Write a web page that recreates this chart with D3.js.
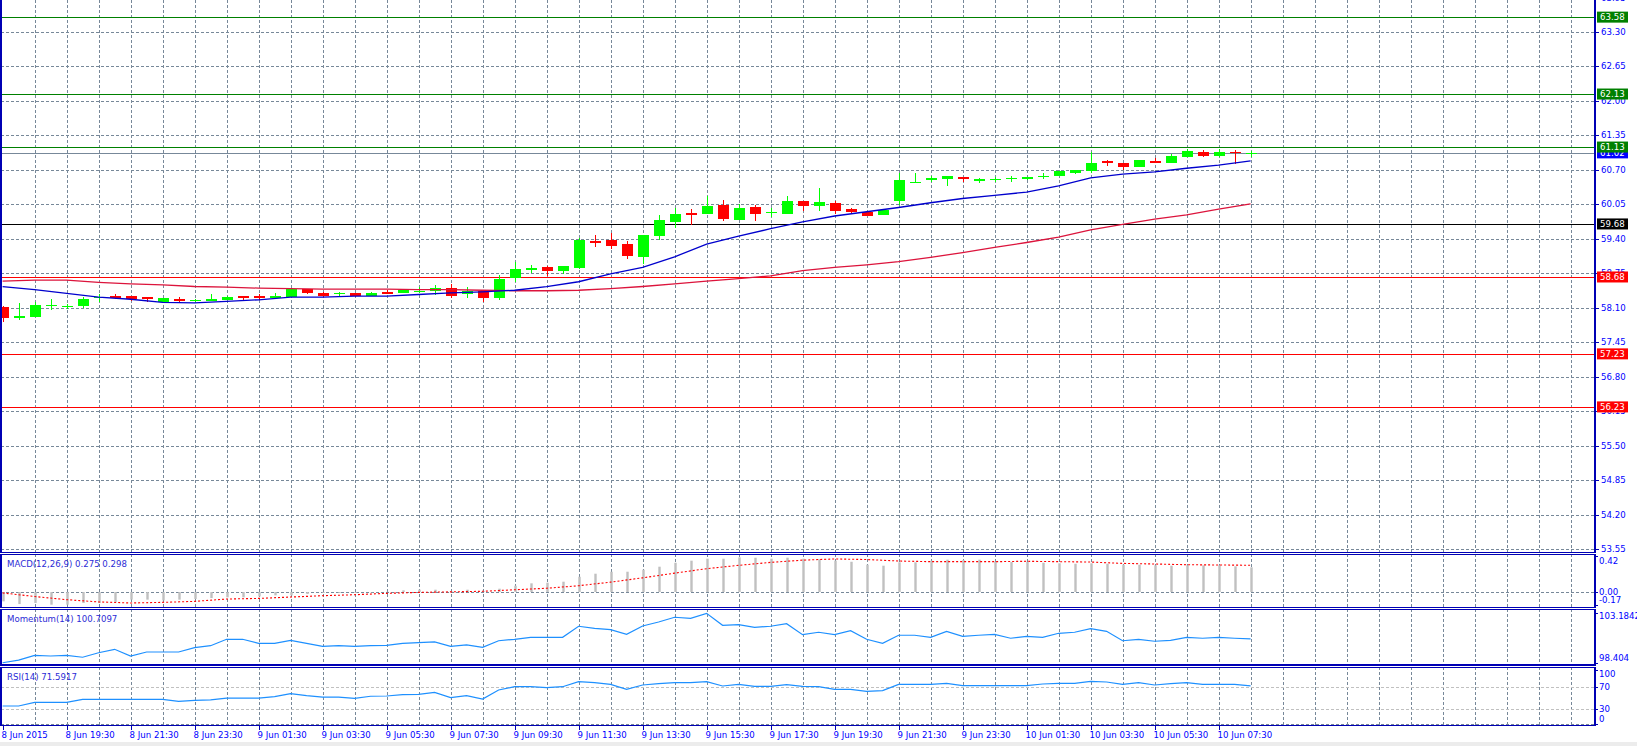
<!DOCTYPE html>
<html>
<head>
<meta charset="utf-8">
<script src="https://cdn.jsdelivr.net/npm/d3@7/dist/d3.min.js"></script>
<style>
html, body { margin: 0; padding: 0; background: #fff; overflow: hidden; }
svg { display: block; }
text { font-family: "DejaVu Sans", sans-serif; font-size: 8.6px; }
</style>
</head>
<body>
<svg id="chart" width="1637" height="746"></svg>
<script>
// --- 30 min bars, 8 Jun 2015 17:30 -> 10 Jun 2015 08:30 ---
const openP = [58.12, 57.91, 57.93, 58.13, 58.12, 58.14, 58.28, 58.32, 58.32, 58.30,
  58.21, 58.27, 58.22, 58.23, 58.25, 58.32, 58.32, 58.29, 58.30, 58.45,
  58.38, 58.35, 58.38, 58.33, 58.40, 58.38, 58.41, 58.41, 58.47, 58.35,
  58.41, 58.28, 58.67, 58.83, 58.86, 58.80, 58.84, 59.36, 59.37, 59.30,
  59.06, 59.45, 59.72, 59.89, 59.87, 60.04, 59.76, 60.00, 59.89, 59.87,
  60.11, 60.01, 60.08, 59.96, 59.91, 59.84, 60.12, 60.47, 60.50, 60.52,
  60.57, 60.50, 60.52, 60.53, 60.52, 60.57, 60.59, 60.65, 60.67, 60.86,
  60.82, 60.75, 60.87, 60.82, 60.95, 61.04, 60.97, 61.04, 61.00];
const highP = [58.13, 58.18, 58.21, 58.26, 58.17, 58.31, 58.36, 58.36, 58.33, 58.31,
  58.29, 58.30, 58.27, 58.36, 58.32, 58.33, 58.35, 58.38, 58.46, 58.45,
  58.39, 58.39, 58.38, 58.40, 58.44, 58.43, 58.49, 58.52, 58.55, 58.49,
  58.41, 58.71, 58.96, 58.91, 58.89, 58.88, 59.41, 59.47, 59.51, 59.35,
  59.47, 59.85, 59.98, 59.96, 60.20, 60.13, 60.06, 60.04, 59.98, 60.21,
  60.12, 60.35, 60.11, 59.98, 59.93, 59.94, 60.64, 60.65, 60.59, 60.59,
  60.57, 60.55, 60.57, 60.59, 60.57, 60.64, 60.68, 60.70, 61.03, 60.89,
  60.82, 60.89, 60.92, 60.99, 61.10, 61.08, 61.09, 61.08, 61.05];
const lowP = [57.84, 57.86, 57.92, 58.05, 58.08, 58.10, 58.21, 58.26, 58.22, 58.20,
  58.18, 58.21, 58.20, 58.22, 58.25, 58.25, 58.25, 58.28, 58.30, 58.36,
  58.31, 58.33, 58.31, 58.32, 58.36, 58.38, 58.37, 58.34, 58.29, 58.28,
  58.20, 58.25, 58.58, 58.75, 58.70, 58.73, 58.83, 59.25, 59.21, 59.01,
  58.92, 59.38, 59.60, 59.66, 59.86, 59.74, 59.76, 59.74, 59.81, 59.87,
  59.93, 59.93, 59.86, 59.89, 59.83, 59.84, 60.03, 60.45, 60.47, 60.40,
  60.48, 60.45, 60.48, 60.48, 60.51, 60.52, 60.58, 60.63, 60.64, 60.78,
  60.70, 60.75, 60.82, 60.82, 60.95, 60.95, 60.95, 60.81, 60.95];
const closeP = [57.91, 57.94, 58.15, 58.15, 58.13, 58.27, 58.30, 58.28, 58.27, 58.27,
  58.28, 58.22, 58.25, 58.27, 58.31, 58.28, 58.28, 58.33, 58.45, 58.37,
  58.33, 58.38, 58.33, 58.38, 58.36, 58.43, 58.42, 58.47, 58.33, 58.42,
  58.28, 58.64, 58.83, 58.84, 58.80, 58.88, 59.38, 59.33, 59.27, 59.08,
  59.47, 59.76, 59.87, 59.85, 60.02, 59.77, 59.98, 59.87, 59.90, 60.11,
  60.01, 60.09, 59.93, 59.91, 59.83, 59.94, 60.51, 60.48, 60.55, 60.59,
  60.52, 60.52, 60.53, 60.55, 60.57, 60.59, 60.67, 60.69, 60.83, 60.82,
  60.76, 60.89, 60.82, 60.96, 61.05, 60.97, 61.04, 61.01, 61.02];

// moving averages, read every second bar
const maBars = [0, 2, 4, 6, 8, 10, 12, 14, 16, 18, 20, 22, 24, 26, 28, 30, 32, 34, 36, 38,
  40, 42, 44, 46, 48, 50, 52, 54, 56, 58, 60, 62, 64, 66, 68, 70, 72, 74, 76, 78];
const maFast = [58.50, 58.44, 58.37, 58.30, 58.26, 58.20, 58.19, 58.22, 58.25, 58.30,
  58.30, 58.32, 58.32, 58.35, 58.38, 58.40, 58.43, 58.50, 58.59, 58.74,
  58.86, 59.06, 59.30, 59.45, 59.59, 59.72, 59.83, 59.91, 59.99, 60.08,
  60.16, 60.22, 60.28, 60.40, 60.55, 60.62, 60.66, 60.73, 60.79, 60.87];
const maSlow = [58.60, 58.62, 58.62, 58.58, 58.55, 58.53, 58.50, 58.49, 58.47, 58.46,
  58.45, 58.45, 58.45, 58.44, 58.44, 58.43, 58.42, 58.42, 58.43, 58.46,
  58.50, 58.55, 58.60, 58.65, 58.70, 58.80, 58.86, 58.91, 58.97, 59.05,
  59.14, 59.24, 59.33, 59.43, 59.57, 59.67, 59.77, 59.85, 59.96, 60.06];

// MACD(12,26,9)
const macdMain = [-0.104, -0.134, -0.122, -0.141, -0.141, -0.122, -0.122, -0.111, -0.085, -0.085,
  -0.093, -0.085, -0.078, -0.067, -0.059, -0.059, -0.048, -0.037, -0.037, -0.022,
  -0.011, -0.011, -0.011, -0.004, 0.003, 0.019, 0.026, 0.026, 0.008, 0.026,
  0.011, 0.037, 0.070, 0.097, 0.104, 0.115, 0.170, 0.204, 0.226, 0.226,
  0.248, 0.282, 0.326, 0.349, 0.371, 0.371, 0.386, 0.382, 0.371, 0.382,
  0.371, 0.364, 0.349, 0.337, 0.304, 0.293, 0.331, 0.331, 0.349, 0.360,
  0.356, 0.360, 0.337, 0.334, 0.334, 0.326, 0.320, 0.315, 0.320, 0.315,
  0.304, 0.304, 0.297, 0.293, 0.297, 0.297, 0.297, 0.286, 0.275];
const macdSignal = [-0.010, -0.050, -0.085, -0.110, -0.122, -0.115, -0.104, -0.078, -0.071, -0.056,
  -0.041, -0.030, -0.015, -0.004, 0.002, 0.008, 0.025, 0.042, 0.070, 0.110,
  0.158, 0.210, 0.260, 0.297, 0.330, 0.355, 0.368, 0.362, 0.345, 0.338,
  0.338, 0.338, 0.342, 0.338, 0.334, 0.319, 0.312, 0.304, 0.301, 0.298];

// Momentum(14)
const momentum = [98.40, 98.66, 99.12, 99.05, 99.12, 98.93, 99.37, 99.70, 99.05, 99.44,
  99.44, 99.44, 99.86, 100.05, 100.67, 100.67, 100.28, 100.28, 100.57, 100.28,
  99.99, 100.05, 99.99, 100.05, 100.08, 100.28, 100.34, 100.41, 99.99, 100.12,
  99.89, 100.53, 100.67, 100.86, 100.86, 100.86, 101.93, 101.73, 101.60, 101.15,
  101.96, 102.34, 102.80, 102.70, 103.18, 102.02, 102.08, 101.83, 101.93, 102.18,
  101.12, 101.35, 101.12, 101.50, 100.67, 100.28, 101.06, 101.06, 100.86, 101.44,
  100.96, 101.06, 101.15, 100.77, 100.96, 100.86, 101.25, 101.35, 101.70, 101.44,
  100.53, 100.67, 100.48, 100.57, 100.86, 100.77, 100.86, 100.77, 100.71];

// RSI(14)
const rsi = [34.9, 34.9, 41.6, 41.6, 41.6, 47.0, 47.0, 47.0, 47.0, 47.0,
  47.0, 43.5, 45.3, 45.9, 49.4, 49.4, 49.4, 51.8, 57.3, 53.6,
  51.2, 51.2, 48.8, 52.6, 53.1, 55.5, 56.1, 59.8, 50.1, 53.7,
  47.6, 64.0, 70.0, 70.0, 68.2, 70.0, 79.1, 77.3, 74.3, 65.2,
  73.1, 75.5, 77.3, 77.3, 79.1, 71.3, 74.3, 70.6, 70.6, 73.7,
  70.6, 70.0, 65.2, 65.2, 61.6, 62.8, 74.3, 74.3, 74.3, 76.1,
  71.9, 71.9, 71.9, 71.9, 71.9, 74.9, 76.1, 76.1, 79.8, 78.5,
  74.3, 77.3, 73.1, 75.5, 77.3, 74.3, 74.3, 74.3, 71.6];

// horizontal levels
const levelValues = [63.58, 62.13, 61.13, 59.68, 58.68, 57.23, 56.23];
const levelKind = ["R", "R", "R", "P", "S", "S", "S"];
const lastPrice = 61.02;

// axis ticks
const priceTicks = [53.55, 54.20, 54.85, 55.50, 56.15, 56.80, 57.45, 58.10, 58.75,
  59.40, 60.05, 60.70, 61.35, 62.00, 62.65, 63.30, 63.95];
const macdTicks = [0.42, 0.00, -0.17];
const momTicks = [103.1842, 98.404];
const rsiTicks = [100, 70, 30, 0];
const timeBars = [0, 4, 8, 12, 16, 20, 24, 28, 32, 36, 40, 44, 48, 52, 56, 60, 64, 68, 72, 76];
const timeLabels = ["8 Jun 2015", "8 Jun 19:30", "8 Jun 21:30", "8 Jun 23:30", "9 Jun 01:30",
  "9 Jun 03:30", "9 Jun 05:30", "9 Jun 07:30", "9 Jun 09:30", "9 Jun 11:30", "9 Jun 13:30",
  "9 Jun 15:30", "9 Jun 17:30", "9 Jun 19:30", "9 Jun 21:30", "9 Jun 23:30", "10 Jun 01:30",
  "10 Jun 03:30", "10 Jun 05:30", "10 Jun 07:30"];

// ---------------------------------------------------------------
const svg = d3.select("#chart");
const axisX = 1595;
const navy = "#0000b4";
const gridCol = "#778899";
const labCol = "#0000ff";

const panels = {
  price: { top: -1, bottom: 552.7 },
  macd: { top: 554.3, bottom: 607.3 },
  mom: { top: 609.3, bottom: 665 },
  rsi: { top: 667.3, bottom: 725.7 }
};

const x = d3.scaleLinear().domain([0, 99.5]).range([2.6, 1594.6]);
const yP = d3.scaleLinear().domain([53.475, 63.903]).range([553, 0]);
const yM = d3.scaleLinear().domain([-0.17, 0.42]).range([607.3, 554.3]);
const yMo = d3.scaleLinear().domain([98.404, 103.1842]).range([662.7, 613.3]);
const yR = d3.scaleLinear().domain([0, 100]).range([725.2, 670.2]);

const bx = i => Math.round(x(i)) + 0.5;

svg.append("rect").attr("width", 1637).attr("height", 746).attr("fill", "#fff");
svg.append("rect").attr("y", 742).attr("width", 1637).attr("height", 4).attr("fill", "#ececec");

// vertical grid
const vg = svg.append("g").attr("shape-rendering", "crispEdges");
Object.values(panels).forEach(p => {
  vg.selectAll(null).data(d3.range(2, 100, 2)).enter().append("line")
    .attr("x1", d => bx(d)).attr("x2", d => bx(d))
    .attr("y1", Math.max(p.top, 0)).attr("y2", p.bottom)
    .attr("stroke", gridCol).attr("stroke-dasharray", "3,2");
});

// horizontal grid, price
vg.selectAll(null).data(priceTicks).enter().append("line")
  .attr("x1", 1).attr("x2", axisX)
  .attr("y1", d => Math.round(yP(d)) + 0.5).attr("y2", d => Math.round(yP(d)) + 0.5)
  .attr("stroke", gridCol).attr("stroke-dasharray", "3,2");
// macd zero, rsi levels
vg.append("line").attr("x1", 1).attr("x2", axisX)
  .attr("y1", Math.round(yM(0)) + 0.5).attr("y2", Math.round(yM(0)) + 0.5)
  .attr("stroke", gridCol).attr("stroke-dasharray", "3,2");
vg.selectAll(null).data([70, 30]).enter().append("line")
  .attr("x1", 1).attr("x2", axisX)
  .attr("y1", d => Math.round(yR(d)) + 0.5).attr("y2", d => Math.round(yR(d)) + 0.5)
  .attr("stroke", "#c0c0c0").attr("stroke-dasharray", "3,2");
vg.append("line").attr("x1", 1).attr("x2", axisX)
  .attr("y1", Math.round(yR(0)) - 0.5).attr("y2", Math.round(yR(0)) - 0.5)
  .attr("stroke", gridCol).attr("stroke-dasharray", "3,2");

// level lines
const levelColor = k => k === "R" ? "#008000" : (k === "P" ? "#000000" : "#ff0000");
const lv = svg.append("g").attr("shape-rendering", "crispEdges");
lv.append("line").attr("x1", 1).attr("x2", axisX)
  .attr("y1", Math.round(yP(lastPrice)) + 0.5).attr("y2", Math.round(yP(lastPrice)) + 0.5)
  .attr("stroke", "#778899");
lv.selectAll(null).data(levelValues).enter().append("line")
  .attr("x1", 1).attr("x2", axisX)
  .attr("y1", d => Math.round(yP(d)) + 0.5).attr("y2", d => Math.round(yP(d)) + 0.5)
  .attr("stroke", (d, i) => levelColor(levelKind[i])).attr("stroke-width", 1.3);

// candles
const bars = d3.range(openP.length).map(i => ({ i, o: openP[i], h: highP[i], l: lowP[i], c: closeP[i] }));
const cg = svg.append("g").attr("shape-rendering", "crispEdges");
const candle = cg.selectAll("g").data(bars).enter().append("g");
candle.append("line")
  .attr("x1", d => bx(d.i)).attr("x2", d => bx(d.i))
  .attr("y1", d => yP(d.h)).attr("y2", d => yP(d.l))
  .attr("stroke", d => d.c >= d.o ? "#00ff00" : "#ff0000");
candle.append("rect")
  .attr("x", d => bx(d.i) - 5.5)
  .attr("width", 11)
  .attr("y", d => yP(Math.max(d.o, d.c)))
  .attr("height", d => Math.max(1.2, Math.abs(yP(d.o) - yP(d.c))))
  .attr("fill", d => d.c >= d.o ? "#00ff00" : "#ff0000");

// moving averages
const maLine = d3.line().x(d => x(d[0])).y(d => yP(d[1]));
svg.append("path").datum(maBars.map((b, k) => [b, maSlow[k]]))
  .attr("d", maLine).attr("fill", "none").attr("stroke", "#dc143c").attr("stroke-width", 1.3);
svg.append("path").datum(maBars.map((b, k) => [b, maFast[k]]))
  .attr("d", maLine).attr("fill", "none").attr("stroke", "#0000cd").attr("stroke-width", 1.3);

// MACD
const mg = svg.append("g");
mg.selectAll("line").data(macdMain).enter().append("line")
  .attr("x1", (d, i) => bx(i)).attr("x2", (d, i) => bx(i))
  .attr("y1", yM(0)).attr("y2", d => yM(d))
  .attr("stroke", "#c0c0c0").attr("stroke-width", 2.4);
mg.append("path").datum(maBars.map((b, k) => [b, macdSignal[k]]))
  .attr("d", d3.line().x(d => x(d[0])).y(d => yM(d[1])))
  .attr("fill", "none").attr("stroke", "#ff0000").attr("stroke-width", 1.1)
  .attr("stroke-dasharray", "2,2");

// Momentum & RSI
svg.append("path").datum(momentum)
  .attr("d", d3.line().x((d, i) => x(i)).y(d => yMo(d)))
  .attr("fill", "none").attr("stroke", "#1e90ff").attr("stroke-width", 1.2);
svg.append("path").datum(rsi)
  .attr("d", d3.line().x((d, i) => x(i)).y(d => yR(d)))
  .attr("fill", "none").attr("stroke", "#1e90ff").attr("stroke-width", 1.2);

// panel frames
const fg = svg.append("g").attr("shape-rendering", "crispEdges");
Object.values(panels).forEach(p => {
  fg.append("rect").attr("x", 1).attr("y", p.top)
    .attr("width", axisX - 1).attr("height", p.bottom - p.top)
    .attr("fill", "none").attr("stroke", navy).attr("stroke-width", 1.2);
});

// indicator titles
const titles = [
  ["MACD(12,26,9) 0.275 0.298", panels.macd.top + 10],
  ["Momentum(14) 100.7097", panels.mom.top + 10],
  ["RSI(14) 71.5917", panels.rsi.top + 10]
];
svg.selectAll(null).data(titles).enter().append("text")
  .attr("x", 7).attr("y", d => d[1]).attr("dy", "0.35em")
  .attr("fill", "#2b2bd6").text(d => d[0]);

// price axis
const ag = svg.append("g");
ag.selectAll(null).data(priceTicks).enter().append("line")
  .attr("x1", axisX).attr("x2", axisX + 4)
  .attr("y1", d => Math.round(yP(d)) + 0.5).attr("y2", d => Math.round(yP(d)) + 0.5)
  .attr("stroke", navy).attr("shape-rendering", "crispEdges");
ag.selectAll(null).data(priceTicks).enter().append("text")
  .attr("x", axisX + 6).attr("y", d => yP(d)).attr("dy", "0.35em")
  .attr("fill", labCol).text(d => d.toFixed(2));

// sub window scales
function subAxis(ticks, scale, p, fmt) {
  ag.selectAll(null).data(ticks).enter().append("text")
    .attr("x", axisX + 4)
    .attr("y", d => Math.min(Math.max(scale(d), p.top + 7), p.bottom - 7))
    .attr("dy", "0.35em").attr("fill", labCol).text(fmt);
  ag.selectAll(null).data(ticks).enter().append("line")
    .attr("x1", axisX).attr("x2", axisX + 3)
    .attr("y1", d => Math.round(Math.min(Math.max(scale(d), p.top + 2), p.bottom - 2)) + 0.5)
    .attr("y2", d => Math.round(Math.min(Math.max(scale(d), p.top + 2), p.bottom - 2)) + 0.5)
    .attr("stroke", navy).attr("shape-rendering", "crispEdges");
}
subAxis(macdTicks, yM, panels.macd, d => d.toFixed(2));
subAxis(momTicks, yMo, panels.mom, d => String(d));
subAxis(rsiTicks, yR, panels.rsi, d => String(d));

// price labels on axis
function priceBox(v, col) {
  const g = ag.append("g").attr("transform", `translate(${axisX + 2},${yP(v)})`);
  g.append("rect").attr("x", 0).attr("y", -5.5).attr("width", 31).attr("height", 11).attr("fill", col);
  g.append("text").attr("x", 3).attr("dy", "0.35em").attr("fill", "#ffffff").text(v.toFixed(2));
}
priceBox(lastPrice, "#0000ff");
levelValues.forEach((v, i) => priceBox(v, levelColor(levelKind[i])));

// time axis
const tg = svg.append("g");
tg.selectAll(null).data(timeBars).enter().append("line")
  .attr("x1", d => bx(d)).attr("x2", d => bx(d))
  .attr("y1", panels.rsi.bottom).attr("y2", panels.rsi.bottom + 4)
  .attr("stroke", navy).attr("shape-rendering", "crispEdges");
tg.selectAll(null).data(timeBars).enter().append("text")
  .attr("x", d => x(d) - 1).attr("y", 738)
  .attr("fill", labCol).text((d, k) => timeLabels[k]);
</script>
</body>
</html>
